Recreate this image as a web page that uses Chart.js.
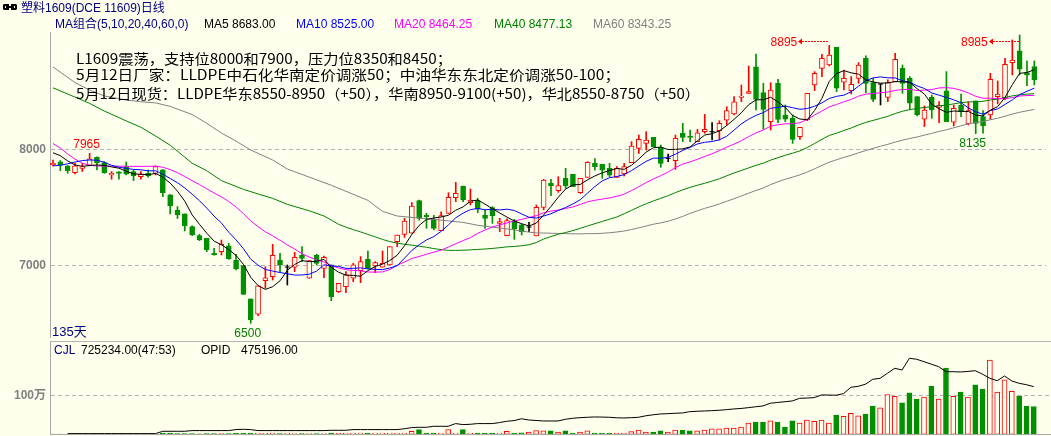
<!DOCTYPE html>
<html lang="zh-CN">
<head>
<meta charset="utf-8">
<title>塑料1609(DCE 11609)日线</title>
<script src="https://cdn.jsdelivr.net/npm/chart.js@4.4.1/dist/chart.umd.min.js"></script>
<style>
  html, body { margin:0; padding:0; background:#FFFFEE; }
  body { width:1051px; height:436px; position:relative; overflow:hidden;
         font-family:"Liberation Sans","Noto Sans CJK SC",sans-serif; }
  canvas { position:absolute; left:0; }
  #priceCanvas { top:0; }
  #volCanvas { top:341px; }
  .t { position:absolute; white-space:nowrap; font-size:12px; line-height:14px; height:14px; }
  .hl { position:absolute; height:1px; background:#b4b4b4; }
  .note { position:absolute; left:76px; white-space:nowrap; font-family:"Noto Sans CJK SC",sans-serif;
          font-size:14px; line-height:16px; color:#000; transform-origin:0 50%; }
  .mk { position:absolute; white-space:nowrap; font-size:12px; line-height:14px; }
  .ic { position:absolute; border:2px solid #000; box-sizing:border-box; }
</style>
</head>
<body>
<canvas id="priceCanvas" width="1051" height="342"></canvas>
<canvas id="volCanvas" width="1051" height="95"></canvas>

<div class="hl" style="left:50px;top:341px;width:1001px;"></div>
<div class="hl" style="left:50px;top:434px;width:1001px;background:#a8a8a8;"></div>

<!-- title row -->
<div class="ic" style="left:3px;top:4px;width:6px;height:6px;border-right:none;border-radius:2px 0 0 2px;"></div>
<div class="ic" style="left:11px;top:4px;width:6px;height:6px;border-left:none;border-radius:0 2px 2px 0;"></div>
<div style="position:absolute;left:6px;top:6px;width:8px;height:2px;background:#000;"></div>
<div class="t" style="left:21px;top:1px;color:#000080;">塑料1609(DCE 11609)日线</div>

<!-- MA legend row -->
<div class="t" style="left:55px;top:17px;color:#000080;">MA组合(5,10,20,40,60,0)</div>
<div class="t" style="left:204px;top:17px;color:#000000;">MA5 8683.00</div>
<div class="t" style="left:296px;top:17px;color:#0000ff;">MA10 8525.00</div>
<div class="t" style="left:394px;top:17px;color:#ff00ff;">MA20 8464.25</div>
<div class="t" style="left:494px;top:17px;color:#008000;">MA40 8477.13</div>
<div class="t" style="left:593px;top:17px;color:#808080;">MA60 8343.25</div>

<!-- commentary -->
<div class="note" data-w="376" style="top:49.5px;">L1609震荡，支持位8000和7900，压力位8350和8450；</div>
<div class="note" data-w="544" style="top:66px;">5月12日厂家：LLDPE中石化华南定价调涨50；中油华东东北定价调涨50-100；</div>
<div class="note" data-w="624" style="top:84.5px;">5月12日现货：LLDPE华东8550-8950（+50），华南8950-9100(+50)，华北8550-8750（+50）</div>

<div class="t" style="left:52px;top:325px;font-size:13px;color:#000080;">135天</div>

<!-- volume panel header -->
<div class="t" style="left:54px;top:343px;color:#000080;">CJL</div>
<div class="t" style="left:81px;top:343px;color:#000;">725234.00(47:53)</div>
<div class="t" style="left:201px;top:343px;color:#000;">OPID</div>
<div class="t" style="left:241px;top:343px;color:#000;">475196.00</div>

<script>
// ---------------- data ----------------
const opens = [7866,7891,7857,7799,7836,7860,7931,7885,7779,7805,
  7851,7808,7765,7793,7793,7822,7607,7477,7443,7334,
  7256,7233,7104,7118,7167,7046,6997,6710,6578,6868,
  6902,7046,6985,6983,7089,6888,7089,6974,7003,6773,
  6816,6888,6954,7052,6994,6983,7003,7204,7267,7276,
  7557,7431,7396,7299,7448,7583,7684,7540,7557,7434,
  7497,7362,7256,7382,7348,7330,7253,7500,7707,7643,
  7750,7784,7626,7758,7879,7870,7836,7758,7787,7885,
  8008,8051,8103,8017,7922,7902,8138,8115,8066,8152,
  8152,8161,8252,8304,8448,8482,8712,8488,8238,8568,
  8296,8267,8109,8253,8555,8698,8727,8879,8578,8506,
  8612,8785,8575,8563,8448,8583,8698,8612,8454,8259,
  8448,8362,8503,8233,8382,8219,8417,8282,8296,8454,
  8440,8747,8848,8661,8713];
const highs = [7908,7903,7860,7880,7880,7965,7935,7894,7808,7808,
  7891,7822,7808,7822,7857,7825,7610,7506,7443,7340,
  7268,7233,7147,7218,7190,7095,6997,6710,6822,6988,
  7181,7103,7003,7112,7161,7040,7095,7080,7003,6845,
  6945,7017,7075,7123,7032,7123,7161,7261,7405,7540,
  7563,7448,7431,7462,7626,7715,7684,7658,7577,7477,
  7506,7405,7400,7396,7357,7370,7520,7741,7741,7764,
  7836,7784,7750,7893,7919,7870,7879,7850,7879,8066,
  8123,8152,8103,8037,7959,8123,8224,8166,8172,8301,
  8230,8247,8367,8454,8554,8718,8821,8568,8574,8603,
  8382,8296,8190,8483,8670,8819,8895,8879,8684,8627,
  8747,8805,8612,8563,8598,8828,8727,8627,8454,8374,
  8468,8411,8670,8382,8477,8411,8417,8334,8655,8589,
  8785,8943,8985,8762,8762];
const lows = [7857,7816,7793,7788,7808,7857,7822,7793,7742,7742,
  7779,7730,7742,7759,7779,7592,7443,7403,7296,7256,
  7213,7118,7087,7089,7052,6960,6750,6500,6566,6802,
  6873,6945,6830,6945,7032,6888,7003,6894,6695,6765,
  6764,6859,6850,6974,6937,6983,7003,7161,7241,7276,
  7390,7319,7305,7299,7448,7549,7549,7520,7454,7319,
  7362,7290,7256,7224,7261,7290,7253,7478,7600,7629,
  7664,7678,7620,7758,7821,7750,7764,7758,7770,7885,
  7965,7994,8023,7845,7893,7827,8066,8066,8066,8138,
  8080,8080,8209,8296,8410,8482,8339,8172,8166,8230,
  8238,8051,8086,8247,8506,8627,8718,8497,8512,8477,
  8569,8489,8411,8382,8411,8583,8483,8345,8287,8196,
  8267,8230,8239,8201,8282,8210,8135,8140,8259,8391,
  8425,8641,8641,8549,8555];
const closes = [7880,7865,7816,7857,7848,7917,7885,7799,7793,7793,
  7785,7770,7785,7770,7851,7627,7512,7434,7339,7262,
  7219,7132,7090,7181,7055,6969,6750,6529,6822,6891,
  7086,7003,6985,7069,7060,7040,7017,7069,6730,6845,
  6917,7003,7032,6974,7023,7017,7161,7261,7382,7511,
  7405,7420,7319,7428,7586,7621,7563,7563,7483,7405,
  7428,7376,7385,7313,7290,7330,7500,7735,7684,7687,
  7684,7678,7750,7888,7850,7821,7778,7836,7850,8028,
  8086,8080,8023,7879,7922,8094,8103,8103,8143,8172,
  8152,8224,8333,8410,8459,8497,8431,8344,8511,8258,
  8259,8086,8190,8483,8655,8785,8813,8526,8612,8560,
  8727,8569,8431,8563,8575,8776,8569,8397,8296,8339,
  8339,8379,8239,8354,8325,8333,8224,8201,8604,8477,
  8733,8770,8690,8641,8598];
// volume, in 万 (10,000 contracts)
const volumes = [0.4,0.3,0.4,0.5,0.4,0.6,0.5,0.5,0.4,0.4,
  0.6,0.5,0.5,0.6,0.8,3.5,3.5,2.0,2.2,1.8,
  1.5,2.0,1.6,1.8,2.0,3.5,3.5,3.5,3.5,3.5,
  3.5,2.0,3.5,2.0,2.0,2.2,1.8,2.2,3.5,2.4,
  3.5,3.5,3.5,3.5,3.5,3.5,3.5,3.5,3.5,8.0,
  12.0,3.5,3.5,3.5,12.0,3.5,12.0,3.5,3.5,3.5,
  3.5,3.5,8.0,3.5,4,6,10,9,9,6,
  9,3,6,9,3,3,3,3,3,7,
  11,6,6,9,6,11,11,9,9,11,
  14,14,16,16,19,29,32,32,35,32,
  19,35,29,37,34,37,29,50,47,55,
  48,53,74,69,104,99,82,108,92,97,
  126,92,173,99,110,97,129,118,194,110,
  142,112,100,74,72.5234];
// open interest, in 万
const openInterest = [null,null,0.7,0.7,0.7,0.7,0.7,0.7,0.7,0.7,
  0.7,0.7,0.7,0.7,0.7,3.0,3.0,3.0,3.0,3.7,
  3.7,3.7,3.7,3.7,3.7,4.7,5.0,4.7,3.7,3.7,
  3.7,3.7,3.7,3.7,3.7,3.7,3.7,3.7,4.0,4.0,
  4.0,4.7,4.7,4.7,4.7,4.7,4.7,4.7,5.5,6.7,
  7.0,7.0,8.0,8.0,8.0,10.7,9.7,10.0,10.7,10.7,
  10.7,11.7,13.0,13.7,15.5,14.3,13.8,13.3,13.3,13.3,
  15.0,16.0,16.6,17.0,17.3,17.2,17.0,16.5,16.3,16.6,
  17.0,18.5,19.5,20.3,20.6,21.0,21.3,22.6,23.0,23.3,
  23.6,24.0,24.6,25.3,25.8,26.6,27.5,28.3,31.0,31.8,
  32.5,33.3,35.9,36.2,36.6,39.3,39.2,39.0,40.6,46.9,
  47.9,50.0,54.9,55.9,60.9,65.9,64.2,75.9,74.9,72.5,
  70.0,67.5,62.5,62.5,62.2,62.8,63.5,60.0,55.9,53.5,
  58.2,53.2,50.9,49.5,47.5196];
// moving-average values before enough bars are on screen: [bar, value]
const ma5Lead  = [[1,7970],[2,7945],[3,7900],[4,7865]];
const ma10Lead = [[1,7857],[2,7862],[3,7875],[4,7890],[5,7903],[6,7908],[7,7906],[8,7888],[9,7862]];
const ma20Lead = [[1,8050],[2,8010],[3,7960],[4,7915],[5,7880],[6,7862],[7,7856],[8,7855],[9,7855],[10,7855],
  [11,7854],[12,7853],[13,7853],[14,7853],[15,7855],[16,7845],[17,7825],[18,7798],[19,7765]];
const ma40Lead = [[1,8530],[4,8450],[6,8396],[8,8330],[11,8245],[13,8190],[15,8115],[17,8035],[20,7880],
  [22,7815],[24,7730],[27,7655],[29,7615],[31,7577],[33,7525],[36,7470],[38,7425],[39,7390]];
const ma60Lead = [[1,8710],[4,8575],[6,8511],[8,8460],[11,8425],[13,8410],[15,8400],[17,8370],[20,8300],
  [22,8224],[24,8140],[26,8070],[28,7994],[31,7908],[33,7830],[36,7760],[39,7690],[44,7560],[46,7465],
  [48,7425],[53,7395],[57,7370],[59,7345]];
// labelled extremes
const markers = [
  {i:6,   kind:'high',  color:'#ff0000'},
  {i:28,  kind:'low',   color:'#008000'},
  {i:127, kind:'low',   color:'#008000'},
  {i:107, kind:'arrow', color:'#ff0000'},
  {i:133, kind:'arrow', color:'#ff0000'}
];

// ---------------- styling ----------------
const UP = '#ff0000', DOWN = '#009000', FLAT = '#000000', BG = '#FFFFEE';
const FONT = '"Liberation Sans","Noto Sans CJK SC",sans-serif';
Chart.defaults.font.family = FONT;
Chart.defaults.animation = false;

const N = closes.length;
const bars = Array.from({length:N}, (_, k) => k + 1);
const dir = k => closes[k] > opens[k] ? 1 : (closes[k] < opens[k] ? -1 : 0);
const lineColor = k => dir(k) > 0 ? UP : (dir(k) < 0 ? DOWN : FLAT);

function movingAverage(n, lead) {
  const pts = lead.map(([i, v]) => ({x:i, y:v}));
  for (let i = n; i <= N; i++) {
    let s = 0;
    for (let k = i - n; k < i; k++) s += closes[k];
    pts.push({x:i, y:s / n});
  }
  return pts;
}

// page-pixel anchors used to calibrate the scales
const PX_PER_BAR = (1034.3 - 53) / 134;   // bar 1 at x=53, bar 135 at x=1034.3
const bodyBars = bars.filter(i => dir(i - 1) !== 0);
const dojiBars = bars.filter(i => dir(i - 1) === 0);

const maLine = (data, color) => ({type:'line', data, borderColor:color, borderWidth:1,
  pointRadius:0, tension:0, order:0});

function fitAxis(s) { s.width = 50; s.paddingTop = 0; s.paddingBottom = 0; }

const arrowPlugin = {
  id:'arrows',
  afterDatasetsDraw(chart) {
    const {ctx, chartArea, scales:{x}} = chart;
    ctx.save();
    markers.filter(m => m.kind === 'arrow').forEach(m => {
      const px = Math.round(x.getPixelForValue(m.i));
      const y = chartArea.top + 9.5;
      ctx.strokeStyle = m.color; ctx.lineWidth = 1; ctx.setLineDash([2, 1]);
      ctx.beginPath(); ctx.moveTo(px - 27, y); ctx.lineTo(px - 1, y); ctx.stroke();
      ctx.setLineDash([]); ctx.fillStyle = m.color;
      ctx.beginPath(); ctx.moveTo(px - 31, y); ctx.lineTo(px - 27, y - 3); ctx.lineTo(px - 27, y + 3);
      ctx.closePath(); ctx.fill();
    });
    ctx.restore();
  }
};

const priceChart = new Chart(document.getElementById('priceCanvas'), {
  type:'bar',
  data:{ datasets:[
    maLine(movingAverage(5,  ma5Lead),  '#000000'),
    maLine(movingAverage(10, ma10Lead), '#0000ff'),
    maLine(movingAverage(20, ma20Lead), '#ff00ff'),
    maLine(movingAverage(40, ma40Lead), '#008000'),
    maLine(movingAverage(60, ma60Lead), '#808080'),
    { type:'line', data: dojiBars.map(i => ({x:i, y:closes[i-1]})), showLine:false,
      pointStyle:'line', pointRadius:2.5, pointBorderColor:FLAT, pointBorderWidth:1, order:1 },
    { type:'bar', data: bodyBars.map(i => ({x:i, y:[opens[i-1], closes[i-1]]})),
      backgroundColor: bodyBars.map(i => dir(i-1) > 0 ? BG : DOWN),
      borderColor: bodyBars.map(i => lineColor(i-1)),
      borderWidth:1, borderSkipped:false, grouped:false, barThickness:5, maxBarThickness:5, order:2 },
    { type:'bar', data: bars.map(i => ({x:i, y:[lows[i-1], highs[i-1]]})),
      backgroundColor: bars.map(i => lineColor(i-1)),
      borderWidth:0, grouped:false, barThickness:1, maxBarThickness:1, order:3 }
  ]},
  options:{
    responsive:false, animation:false, devicePixelRatio:1,
    layout:{ padding:{ top:32, bottom:1, left:0, right:0 } },
    plugins:{ legend:{display:false}, tooltip:{enabled:false} },
    scales:{
      x:{ type:'linear', min:0.59, max:137.28, bounds:'data', offset:false, display:false },
      y:{ type:'linear', min:6347, max:9011, bounds:'data',
          afterFit: fitAxis,
          afterBuildTicks(s){ s.ticks = [{value:7000},{value:8000}]; },
          ticks:{ font:{family:FONT, size:12, weight:'bold'}, color:'#808080', padding:4,
                  callback: v => String(v) },
          grid:{ color:'#b4b4b4', drawTicks:false, lineWidth:1 },
          border:{ display:true, color:'#a8a8a8', width:1, dash:[4,3] } }
    }
  },
  plugins:[arrowPlugin]
});

const volChart = new Chart(document.getElementById('volCanvas'), {
  type:'bar',
  data:{ datasets:[
    { type:'line', data: bars.map(i => ({x:i, y:openInterest[i-1]})), yAxisID:'yOI',
      borderColor:'#000000', borderWidth:1, pointRadius:0, tension:0, spanGaps:false, order:0 },
    { type:'bar', data: bars.map(i => ({x:i, y:volumes[i-1]})),
      backgroundColor: bars.map(i => dir(i-1) < 0 ? DOWN : BG),
      borderColor: bars.map(i => dir(i-1) < 0 ? DOWN : UP),
      borderWidth:1, borderSkipped:false, grouped:false, barThickness:5, maxBarThickness:5, order:1 }
  ]},
  options:{
    responsive:false, animation:false, devicePixelRatio:1,
    layout:{ padding:{ top:1, bottom:2, left:0, right:0 } },
    plugins:{ legend:{display:false}, tooltip:{enabled:false} },
    scales:{
      x:{ type:'linear', min:0.59, max:137.28, bounds:'data', offset:false, display:false },
      y:{ type:'linear', min:0, max:240, bounds:'data', position:'left',
          afterFit: fitAxis,
          afterBuildTicks(s){ s.ticks = [{value:100}]; },
          ticks:{ font:{family:FONT, size:12, weight:'bold'}, color:'#808080', padding:4,
                  callback: v => v + '万' },
          grid:{ color:'#b4b4b4', drawTicks:false, lineWidth:1 },
          border:{ display:true, color:'#a8a8a8', width:1, dash:[4,3] } },
      yOI:{ type:'linear', min:0, max:92, bounds:'data', display:false, position:'right' }
    }
  }
});

// ---------------- calibrate scales to the reference's pixel anchors ----------------
function calibrateY(chart, id, canvasTop, v1, y1, v2, y2) {
  const ca = chart.chartArea;
  const a = y1 - canvasTop, b = y2 - canvasTop;
  const k = (v1 - v2) / (b - a);           // value per pixel
  chart.options.scales[id].max = v1 + (a - ca.top) * k;
  chart.options.scales[id].min = v1 - (ca.bottom - a) * k;
}
function calibrateX(chart) {
  const ca = chart.chartArea;
  const min = 1 - (53 - ca.left) / PX_PER_BAR;
  chart.options.scales.x.min = min;
  chart.options.scales.x.max = min + (ca.right - ca.left) / PX_PER_BAR;
}
calibrateX(priceChart);
calibrateY(priceChart, 'y', 0, 8000, 149.3, 7000, 265.3);
priceChart.update('none');
calibrateX(volChart);
calibrateY(volChart, 'y', 341, 100, 396, 0, 434.3);
calibrateY(volChart, 'yOI', 341, 47.5196, 386.7, 0, 434.3);
volChart.update('none');

// ---------------- extreme-value labels (HTML text placed through the chart scales) ----------------
(function placeMarkers(){
  const xs = priceChart.scales.x, ys = priceChart.scales.y, top = priceChart.chartArea.top;
  markers.forEach(m => {
    const px = xs.getPixelForValue(m.i);
    const el = document.createElement('div');
    el.className = 'mk';
    el.style.color = m.color;
    if (m.kind === 'arrow') {
      el.textContent = String(highs[m.i-1]);
      el.style.right = (1051 - (px - 32)) + 'px';
      el.style.top = (top + 9.5 - 7) + 'px';
    } else {
      const v = m.kind === 'high' ? highs[m.i-1] : lows[m.i-1];
      el.textContent = String(v);
      const cy = ys.getPixelForValue(v) + (m.kind === 'high' ? -9 : 9.5);
      el.style.left = (px - 3) + 'px';
      el.style.top = (cy - 7) + 'px';
      el.style.transform = 'translateX(-50%)';
    }
    document.body.appendChild(el);
  });
})();

function fitNotes(){
  document.querySelectorAll('.note').forEach(el => {
    el.style.transform = 'none';
    const w = el.getBoundingClientRect().width;
    if (w > 0) el.style.transform = 'scaleX(' + (+el.dataset.w / w) + ')';
  });
}
fitNotes();
if (document.fonts && document.fonts.ready) document.fonts.ready.then(fitNotes);
</script>
</body>
</html>
